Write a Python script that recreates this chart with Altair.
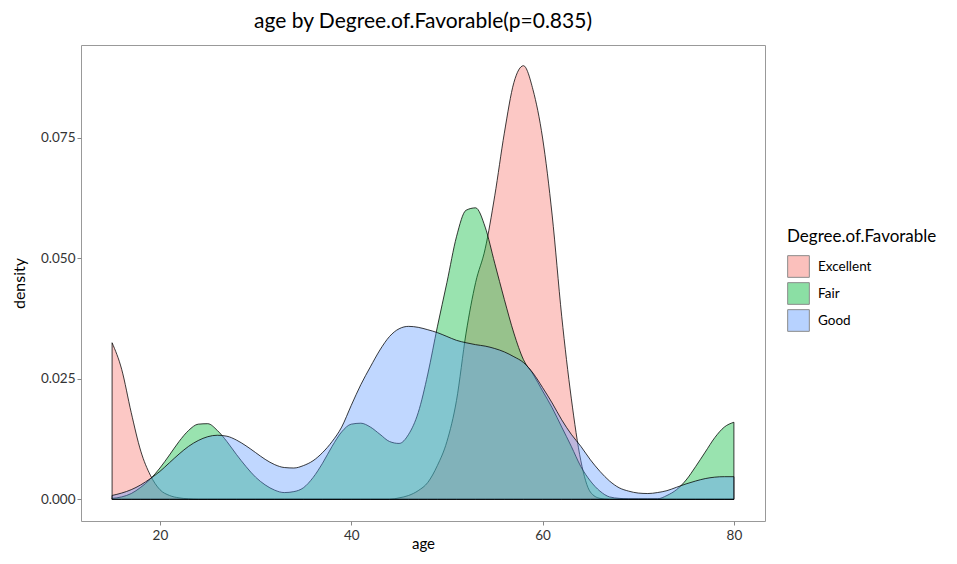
import altair as alt
import pandas as pd

ages = list(range(15, 81))

excellent = [0.0325, 0.0270, 0.0180, 0.0100, 0.0050, 0.0020, 0.0008, 0.0003,
             0.0001, 0, 0, 0, 0, 0, 0, 0, 0, 0, 0, 0, 0, 0, 0, 0, 0, 0, 0, 0, 0, 0,
             0.0003, 0.0008, 0.0018, 0.0035, 0.0070, 0.0120, 0.0205, 0.0345,
             0.0450, 0.0520, 0.0630, 0.0760, 0.0865, 0.0900, 0.0850, 0.0750,
             0.0590, 0.0380, 0.0210, 0.0080, 0.0015, 0.0002, 0, 0, 0, 0, 0, 0,
             0, 0, 0, 0, 0, 0, 0, 0]

fair = [0.0002, 0.0005, 0.0012, 0.0025, 0.0042, 0.0065, 0.0092, 0.0120,
        0.0143, 0.0156, 0.0157, 0.0143, 0.0120, 0.0093, 0.0068, 0.0046,
        0.0030, 0.0019, 0.0014, 0.0016, 0.0024, 0.0045, 0.0075, 0.0110,
        0.0140, 0.0156, 0.0158, 0.0150, 0.0135, 0.0120, 0.0116, 0.0135,
        0.0180, 0.0260, 0.0358, 0.0450, 0.0545, 0.0600, 0.0605, 0.0565,
        0.0490, 0.0415, 0.0345, 0.0290, 0.0260, 0.0225, 0.0190, 0.0150,
        0.0110, 0.0068, 0.0038, 0.0017, 0.0005, 0.0002, 0.0001, 0.0001,
        0.0001, 0.0001, 0.0008, 0.0020, 0.0040, 0.0068, 0.0098, 0.0128,
        0.0150, 0.0160]

good = [0.0008, 0.0013, 0.0020, 0.0030, 0.0043, 0.0058, 0.0076, 0.0094,
        0.0110, 0.0122, 0.0130, 0.0133, 0.0131, 0.0123, 0.0111, 0.0097,
        0.0083, 0.0072, 0.0066, 0.0065, 0.0070, 0.0080, 0.0097, 0.0120,
        0.0150, 0.0195, 0.0238, 0.0275, 0.0310, 0.0338, 0.0354, 0.0359,
        0.0357, 0.0352, 0.0346, 0.0338, 0.0330, 0.0325, 0.0321, 0.0318,
        0.0313, 0.0306, 0.0296, 0.0284, 0.0262, 0.0232, 0.0200, 0.0165,
        0.0135, 0.0110, 0.0082, 0.0058, 0.0038, 0.0024, 0.0017, 0.0013,
        0.0012, 0.0014, 0.0018, 0.0025, 0.0032, 0.0038, 0.0043, 0.0046,
        0.0047, 0.0047]

groups = ["Excellent", "Fair", "Good"]
colors = ["#F8766D", "#00BA38", "#619CFF"]

rows = []
for name, vals in zip(groups, [excellent, fair, good]):
    for a, v in zip(ages, vals):
        rows.append({"age": a, "density": v, "base": 0.0, "grp": name})
df = pd.DataFrame(rows)

FONT = "Lato"

chart = alt.Chart(df).mark_area(
    interpolate="monotone", fillOpacity=0.4, stroke="black",
    strokeWidth=0.9, strokeOpacity=0.85, clip=True
).encode(
    x=alt.X("age:Q", title="age",
            scale=alt.Scale(domain=[11.75, 83.25], nice=False, zero=False),
            axis=alt.Axis(values=[20, 40, 60, 80], grid=False)),
    y=alt.Y("density:Q", title="density",
            scale=alt.Scale(domain=[-0.0045, 0.0943], nice=False, zero=False),
            axis=alt.Axis(values=[0, 0.025, 0.05, 0.075], format=".3f", grid=False)),
    y2="base:Q",
    color=alt.Color("grp:N", title="Degree.of.Favorable",
                    scale=alt.Scale(domain=groups, range=colors),
                    legend=alt.Legend(orient="none", legendX=706, legendY=184,
                                      symbolType="square", symbolSize=470,
                                      symbolStrokeColor="black", symbolStrokeWidth=1,
                                      symbolOpacity=0.45,
                                      titleFontSize=17, titleFont=FONT, titleFontWeight="normal",
                                      titleColor="black", labelFont=FONT, labelFontSize=13.5,
                                      labelColor="black", rowPadding=0, titlePadding=9,
                                      labelOffset=8)),
    order=alt.Order("grp:N"),
).properties(
    width=684, height=476,
    title=alt.Title("age by Degree.of.Favorable(p=0.835)", font=FONT, fontSize=21,
                    fontWeight="normal", color="black", anchor="middle", offset=13),
    autosize=alt.AutoSizeParams(type="none"),
    padding={"left": 73, "top": 37, "right": 184, "bottom": 35},
).configure_view(
    stroke="#999999", strokeWidth=1
).configure_axis(
    domain=False, tickColor="#888888", tickSize=4,
    labelFont=FONT, labelFontSize=13.5, labelColor="#333333",
    titleFont=FONT, titleFontSize=16, titleFontWeight="normal", titleColor="black",
).configure_axisX(titlePadding=-5, labelPadding=3, titleFontSize=15
).configure_axisY(titlePadding=13)

chart.save("out.html", embed_options={"renderer": "svg", "actions": False})
